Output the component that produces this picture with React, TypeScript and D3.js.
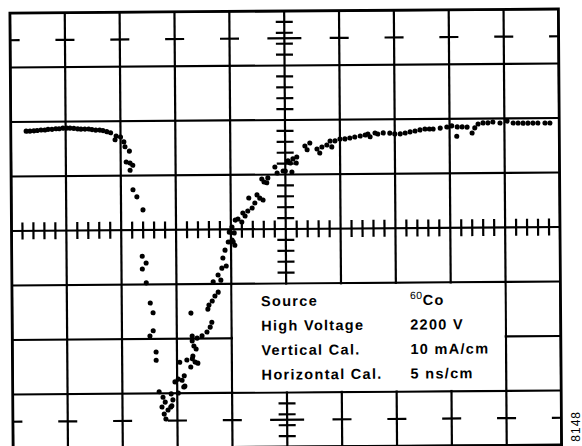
import React from "react";
import * as d3 from "d3";

// Oscilloscope trace: time in ns (5 ns/cm), current in mA (10 mA/cm), screen centre = (0, 0)
const baseline: [number, number][] = [
  [-23.6, 18.3], [-23.25, 18.3], [-22.9, 18.35], [-22.6, 18.4], [-22.25, 18.5], [-21.9, 18.5],
  [-21.6, 18.6], [-21.25, 18.6], [-20.9, 18.7], [-20.6, 18.7], [-20.25, 18.8], [-19.9, 18.8],
  [-19.6, 18.8], [-19.25, 18.75], [-18.9, 18.65], [-18.6, 18.6], [-18.25, 18.6], [-17.9, 18.6],
  [-17.6, 18.5], [-17.25, 18.4], [-16.9, 18.4], [-16.6, 18.3], [-16.25, 18.1], [-15.9, 17.9],
];

const fall: [number, number][] = [
  [-15.4, 17.3], [-15.5, 16.6], [-15.0, 17.1], [-14.7, 16.2], [-14.6, 15.3], [-14.2, 14.5],
  [-14.5, 12.5], [-14.15, 12.3], [-13.9, 11.9], [-14.15, 11.0], [-13.9, 7.4], [-13.55, 6.1],
  [-13.0, 3.7], [-13.1, -4.8], [-12.75, -6.05], [-13.1, -7.15], [-12.75, -9.7], [-12.4, -13.4],
  [-12.15, -15.2], [-12.15, -18.5], [-12.45, -19.45], [-11.9, -22.4], [-11.9, -23.9],
  [-11.65, -29.7], [-11.3, -30.7], [-11.1, -31.6], [-11.4, -32.5], [-11.2, -33.8], [-11.05, -34.7],
  [-10.85, -33.05], [-10.5, -32.3], [-10.55, -30.1], [-10.4, -31.2], [-10.6, -32.5], [-9.9, -29.95],
];

const rise: [number, number][] = [
  [-10.2, -27.9], [-9.9, -27.4], [-9.35, -26.8], [-9.3, -28.7], [-9.4, -28.85], [-9.55, -27.6],
  [-9.75, -24.3], [-9.1, -23.9], [-8.6, -23.7], [-8.55, -23.2], [-8.35, -24.3], [-8.75, -25.2],
  [-8.1, -24.5], [-8.6, -19.5], [-8.6, -20.4], [-8.45, -21.35], [-8.25, -21.9], [-8.7, -15.3],
  [-8.15, -19.9], [-7.7, -19.5], [-7.25, -18.8], [-6.95, -17.9], [-6.8, -17.0], [-7.15, -14.6],
  [-7.05, -13.85], [-6.75, -13.1], [-6.5, -12.2], [-6.2, -11.5], [-6.65, -9.6], [-6.2, -8.35],
  [-5.95, -9.3], [-5.85, -7.1], [-5.45, -6.7], [-5.75, -5.25], [-5.55, -3.8], [-5.25, -2.3],
  [-4.8, -2.3], [-4.65, -2.9], [-4.9, -1.95], [-5.15, -0.5], [-4.7, -0.65], [-4.9, 0.45],
  [-4.35, 1.9], [-4.6, 1.7], [-4.0, 1.35], [-3.9, 3.0], [-3.7, 2.45], [-3.45, 3.35],
  [-3.05, 3.9], [-2.8, 4.8], [-3.35, 5.75], [-2.6, 6.3], [-2.35, 5.7], [-2.05, 5.35],
  [-2.15, 9.2], [-1.95, 8.65], [-1.7, 8.5], [-1.6, 9.4], [-0.95, 11.4], [-0.75, 10.3],
  [-0.2, 10.65], [0.0, 10.65], [0.6, 10.45], [0.25, 12.5], [0.45, 12.1], [0.7, 12.85],
  [1.05, 13.2], [1.0, 12.1],
];

const recovery: [number, number][] = [
  [1.8, 15.2], [2.0, 14.5], [2.25, 15.75], [2.9, 14.65], [3.15, 13.9], [3.35, 15.0],
  [3.8, 15.35], [4.1, 16.1], [4.25, 15.0], [4.55, 16.1], [5.0, 16.45], [5.45, 16.45],
  [5.9, 16.6], [6.35, 16.8], [6.85, 16.95], [7.3, 17.15], [7.55, 17.3], [7.75, 16.8],
  [8.2, 17.5], [8.45, 17.3], [8.95, 17.5], [9.55, 17.45], [10.0, 17.3], [10.5, 17.3],
  [10.95, 17.45], [11.4, 17.65], [11.85, 17.8], [12.3, 18.0], [12.75, 18.15], [13.15, 18.15],
  [13.5, 18.15], [14.15, 18.3], [14.75, 18.5], [15.2, 18.7], [15.7, 18.5], [15.65, 16.8],
  [16.15, 18.5], [16.6, 18.45], [17.05, 17.35], [17.3, 18.3], [17.6, 19.0], [18.05, 19.2],
  [18.5, 19.2], [18.95, 19.35], [19.6, 19.15], [20.25, 19.5], [20.8, 19.15], [21.25, 19.15],
  [21.7, 19.1], [22.15, 19.1], [22.6, 19.1], [23.05, 19.1], [23.7, 19.1], [24.15, 19.1],
];

const timeDomain: [number, number] = [-25, 25];
const currentDomain: [number, number] = [-40, 40];
const majorTime = d3.range(-25, 26, 5);
const majorCurrent = d3.range(-40, 41, 10);
const minorTime = d3.range(-25, 26, 1).filter((t) => t % 5 !== 0);
const minorCurrent = d3.range(-40, 41, 2).filter((c) => c % 10 !== 0);
const rowMarks = [35, -35];

const legendLabels = ["Source", "High Voltage", "Vertical Cal.", "Horizontal Cal."];
const legendValues = ["60Co", "2200 V", "10 mA/cm", "5 ns/cm"];
const figureId = "8148";

export default function App() {
  const x = d3.scaleLinear().domain(timeDomain).range([11.5, 560]);
  const y = d3.scaleLinear().domain(currentDomain).range([447, 11]);
  const cx = x(0);
  const cy = y(0);
  const points = [...baseline, ...fall, ...rise, ...recovery];
  const boxX0 = x(-5), boxX1 = x(20), boxY0 = y(-10), boxY1 = y(-30);
  const font = "'Liberation Sans', Arial, Helvetica, sans-serif";
  const rowY = [306, 330.5, 355, 379.5];

  return (
    <svg width={582} height={446} style={{ position: "absolute", left: 0, top: 0, background: "#fff" }}>
      <defs>
        <clipPath id="scr">
          <rect x={x(-25)} y={y(40)} width={x(25) - x(-25)} height={y(-40) - y(40)} />
        </clipPath>
      </defs>
      <g transform={`rotate(-0.42, ${cx}, ${cy})`}>
        <g clipPath="url(#scr)" stroke="#000" strokeWidth={2.2}>
          {majorTime.map((t) => (
            <line key={"v" + t} x1={x(t)} x2={x(t)} y1={y(40)} y2={y(-40)} />
          ))}
          {majorCurrent.map((c) => (
            <line key={"h" + c} y1={y(c)} y2={y(c)} x1={x(-25)} x2={x(25)} />
          ))}
          {minorTime.map((t) => (
            <line key={"mt" + t} x1={x(t)} x2={x(t)} y1={cy - 8.5} y2={cy + 8.5} />
          ))}
          {minorCurrent.map((c) => (
            <line key={"mc" + c} y1={y(c)} y2={y(c)} x1={cx - 8.5} x2={cx + 8.5} />
          ))}
          {rowMarks.map((c) =>
            majorTime.map((t) => {
              const half = t === 0 ? 17 : 9.5;
              return <line key={"rm" + c + "_" + t} y1={y(c)} y2={y(c)} x1={x(t) - half} x2={x(t) + half} />;
            })
          )}
        </g>
        <rect
          x={x(-25)} y={y(40)} width={x(25) - x(-25)} height={y(-40) - y(40)}
          fill="none" stroke="#000" strokeWidth={2.8}
        />
        <rect
          x={boxX0 + 1.3} y={boxY0 + 1.3} width={boxX1 - boxX0 - 2.6} height={boxY1 - boxY0 - 2.6}
          fill="#fff"
        />
        <g fontFamily={font} fontWeight={700} fontSize={14.5} letterSpacing={1.3} fill="#000">
          {legendLabels.map((l, i) => (
            <text key={l} x={260.5} y={rowY[i]}>{l}</text>
          ))}
          {legendValues.map((v, i) =>
            v === "60Co" ? (
              <text key={v} x={409.5} y={rowY[i]}>
                <tspan fontSize={10.5} fontWeight={400} letterSpacing={0.5} dy={-6}>60</tspan>
                <tspan dy={6}>Co</tspan>
              </text>
            ) : (
              <text key={v} x={409.5} y={rowY[i]}>{v}</text>
            )
          )}
        </g>
        <g fill="#000">
          {points.map(([t, c], i) => (
            <circle key={i} cx={x(t)} cy={y(c)} r={2.55} />
          ))}
        </g>
      </g>
      <text
        transform="translate(580, 411) rotate(-90)"
        textAnchor="end"
        fontFamily={font}
        fontSize={12}
        letterSpacing={1}
        fill="#000"
      >
        {figureId}
      </text>
    </svg>
  );
}
